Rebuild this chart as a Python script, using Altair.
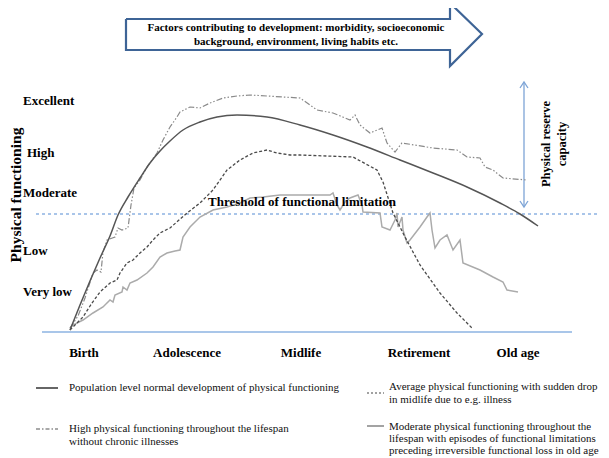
import altair as alt
import pandas as pd

# ---- data (chart units: horizontal life-course position, vertical functioning position) ----
pop_x = [70, 80, 90, 100, 110, 118, 128, 140, 150, 160, 170, 183, 200, 217, 237, 267, 300, 333, 367, 400, 433, 467, 500, 520, 538]
pop_y = [330, 305, 281, 258, 236, 215, 197, 178, 163, 151, 141, 130, 122, 117, 115, 117, 125, 135, 147, 160, 173, 187, 203, 214, 226]

high_x = [70, 78, 85, 93, 97, 101, 103, 107, 115, 118, 122, 128, 131, 134, 140, 147, 157, 163, 170, 177, 180, 190, 200, 210, 223, 237,
          250, 267, 283, 300, 317, 333, 350, 355, 360, 370, 382, 387, 395, 402, 433, 457, 467, 480, 485, 493, 503, 527]
high_y = [328, 316, 298, 273, 270, 272, 252, 240, 237, 228, 230, 228, 205, 188, 180, 167, 153, 140, 127, 117, 112, 107, 108, 103, 98, 96,
          95, 96, 97, 98, 110, 113, 120, 115, 125, 133, 128, 143, 152, 143, 148, 150, 157, 158, 167, 170, 178, 180]

avg_x = [70, 73, 83, 92, 100, 110, 117, 120, 127, 133, 140, 147, 153, 160, 170, 187, 200, 213, 227, 240, 253, 267, 277, 290, 300, 353,
         377, 383, 393, 405, 420, 440, 457, 472]
avg_y = [330, 327, 317, 303, 292, 283, 280, 273, 263, 260, 253, 247, 240, 233, 228, 213, 203, 190, 170, 160, 153, 150, 153, 155, 155, 157,
         170, 182, 213, 237, 265, 293, 313, 328]

mod_x = [70, 73, 83, 93, 103, 110, 113, 115, 122, 123, 127, 130, 137, 147, 153, 160, 167, 175, 180, 183, 190, 200, 213, 227, 240, 250,
         263, 280, 297, 317, 330, 333, 337, 340, 345, 350, 358, 362, 363, 380, 382, 390, 395, 397, 398, 402, 403, 407, 410, 420,
         427, 430, 432, 435, 440, 447, 453, 460, 463, 480, 493, 503, 507, 518]
mod_y = [328, 325, 320, 313, 307, 300, 302, 295, 292, 287, 290, 283, 280, 273, 267, 257, 253, 251, 250, 237, 227, 217, 210, 207, 203, 198,
         197, 195, 195, 195, 195, 193, 205, 210, 202, 198, 195, 205, 212, 213, 227, 230, 220, 213, 227, 217, 230, 243, 240, 227,
         217, 213, 230, 248, 240, 235, 250, 240, 263, 270, 277, 282, 290, 292]

level_labels = ["Excellent", "High", "Moderate", "Low", "Very low"]
level_x = [23, 27, 23, 23, 23]
level_y = [101, 153, 193, 251, 292]

stage_labels = ["Birth", "Adolescence", "Midlife", "Retirement", "Old age"]
stage_x = [84, 187, 301, 419, 518]
stage_y = [353, 353, 353, 353, 353]

arrow_x = [126, 450, 450, 482, 450, 450, 126, 126]
arrow_y = [19, 19, 3, 34, 66, 50, 50, 19]
arrow_text = ["Factors contributing to development:  morbidity, socioeconomic",
              "background, environment, living habits etc."]
arrow_text_y = [28, 42]

legend_text = [
    ["Population level normal  development of physical functioning"],
    ["High physical functioning throughout the lifespan", "without chronic illnesses"],
    ["Average physical functioning  with sudden drop", "in midlife due to e.g. illness"],
    ["Moderate physical functioning throughout the", "lifespan with episodes of functional limitations",
     "preceding irreversible  functional loss in old age"],
]

X0, X1, Y0, Y1 = 8, 601, 8, 458
xs = alt.Scale(domain=[X0, X1], nice=False, zero=False)
ys = alt.Scale(domain=[Y1, Y0], nice=False, zero=False)
SERIF = "Liberation Serif"


def X(f="x"):
    return alt.X(f"{f}:Q", scale=xs, axis=None)


def Y(f="y"):
    return alt.Y(f"{f}:Q", scale=ys, axis=None)


def path(xv, yv, **mk):
    df = pd.DataFrame({"x": xv, "y": yv, "o": range(len(xv))})
    return alt.Chart(df).mark_line(**mk).encode(x=X(), y=Y(), order="o:Q")


def txt(labels, xv, yv, **mk):
    df = pd.DataFrame({"t": labels, "x": xv, "y": yv})
    return alt.Chart(df).mark_text(font=SERIF, **mk).encode(x=X(), y=Y(), text="t:N")


layers = []
# big arrow
layers.append(path(arrow_x, arrow_y, color="#3E6496", strokeWidth=2.2, strokeJoin="miter"))
layers.append(txt(arrow_text, [296, 296], arrow_text_y, fontSize=11, fontWeight="bold", align="center", baseline="middle"))

# baseline and threshold
layers.append(path([42, 572], [332, 332], color="#8DB3E2", strokeWidth=1.5))
layers.append(path([36, 598], [214, 214], color="#8DB3E2", strokeWidth=1.3, strokeDash=[3, 3]))

# reserve capacity double arrow
layers.append(path([524, 524], [82, 207], color="#7DA4D6", strokeWidth=1.3))
layers.append(path([520, 524, 528], [88, 82, 88], color="#7DA4D6", strokeWidth=1.3))
layers.append(path([520, 524, 528], [201, 207, 201], color="#7DA4D6", strokeWidth=1.3))
layers.append(txt(["Physical reserve", "capacity"], [546, 562], [144, 144], fontSize=12.5, fontWeight="bold",
                  angle=270, align="center", baseline="middle"))

# curves
layers.append(path(mod_x, mod_y, color="#ABABAB", strokeWidth=1.5))
layers.append(path(avg_x, avg_y, color="#4A4A4A", strokeWidth=1.3, strokeDash=[3, 2]))
layers.append(path(high_x, high_y, color="#8A8A8A", strokeWidth=1.2, strokeDash=[6, 2, 1.5, 2, 1.5, 2]))
layers.append(path(pop_x, pop_y, color="#555555", strokeWidth=1.5, interpolate="monotone"))

# threshold label
layers.append(txt(["Threshold of functional limitation"], [208], [202], fontSize=13, fontWeight="bold",
                  align="left", baseline="middle"))

# y title and level labels
layers.append(txt(["Physical functioning"], [15.5], [195], fontSize=15.5, fontWeight="bold", angle=270,
                  align="center", baseline="middle"))
layers.append(txt(level_labels, level_x, level_y, fontSize=13, fontWeight="bold", align="left", baseline="middle"))

# stage labels
layers.append(txt(stage_labels, stage_x, stage_y, fontSize=13, fontWeight="bold", align="center", baseline="middle"))

# legend
layers.append(path([36, 58], [388, 388], color="#333333", strokeWidth=1.5))
layers.append(path([36, 58], [429, 429], color="#555555", strokeWidth=1.2, strokeDash=[4, 2, 1.5, 2]))
layers.append(path([367, 384], [393, 393], color="#444444", strokeWidth=1.2, strokeDash=[2, 2]))
layers.append(path([367, 384], [426, 426], color="#666666", strokeWidth=1.2))
leg_pos = [(69, [388]), (69, [429, 442]), (389, [387, 400]), (389, [427, 439, 451])]
for lines, (lx, ly) in zip(legend_text, leg_pos):
    layers.append(txt(lines, [lx] * len(lines), ly, fontSize=11, align="left", baseline="middle", color="#111111"))

chart = alt.layer(*layers).properties(
    width=X1 - X0, height=Y1 - Y0, padding=0, autosize=alt.AutoSizeParams(type="none")
).configure_view(stroke=None)

chart.save("out.html", embed_options={"renderer": "svg", "actions": False})
